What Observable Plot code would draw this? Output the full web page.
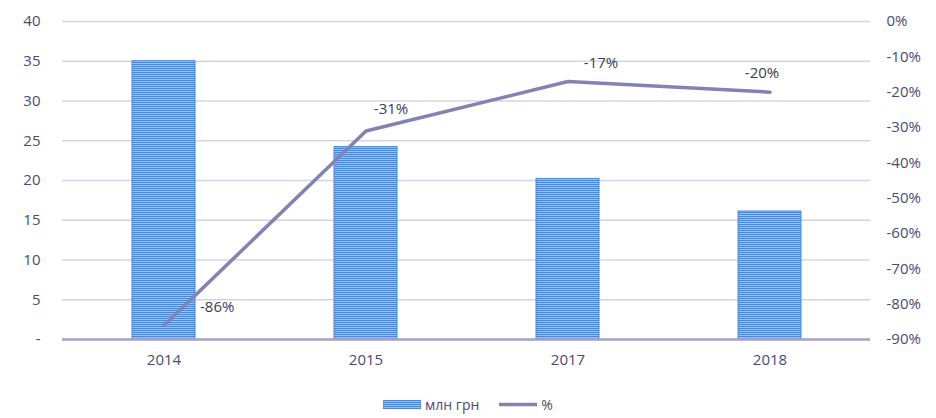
<!DOCTYPE html>
<html>
<head>
<meta charset="utf-8">
<script src="https://cdn.jsdelivr.net/npm/d3@7"></script>
<script src="https://cdn.jsdelivr.net/npm/@observablehq/plot@0.6"></script>
<style>
  html, body { margin: 0; padding: 0; background: #fff; }
  body { width: 936px; height: 418px; overflow: hidden; font-family: "Open Sans", sans-serif; }
  #legend { height: 28px; display: flex; justify-content: center; align-items: center; gap: 4px; font-size: 14px; font-weight: 500; color: #4a4a74; }
  #legend .item { display: flex; align-items: center; gap: 4px; margin: 0 8px; }
</style>
</head>
<body>
<div id="chart"></div>
<div id="legend">
  <div class="item"><svg width="38" height="9"><defs><pattern id="stripesLegend" width="4" height="2" patternUnits="userSpaceOnUse"><rect width="4" height="2" fill="#9cc2f1"/><rect width="4" height="1" fill="#4a86d8"/></pattern></defs><rect width="38" height="9" fill="url(#stripesLegend)" stroke="#4a86d8" stroke-width="0.8"/></svg><span>млн грн</span></div>
  <div class="item"><svg width="38" height="9"><line x1="0" x2="38" y1="4.5" y2="4.5" stroke="#8282b4" stroke-width="3.5"/></svg><span>%</span></div>
</div>
<script>
const years = ["2014", "2015", "2017", "2018"];
const amounts = [35.0, 24.2, 20.2, 16.1];        // млн грн
const percents = [-86, -31, -17, -20];          // %
const leftTicks = [0, 5, 10, 15, 20, 25, 30, 35, 40];
const rightTicks = [0, -10, -20, -30, -40, -50, -60, -70, -80, -90];

const yMax = 40, pMin = -90;
const toY = p => (p - pMin) * yMax / (0 - pMin);
const fromY = y => y * (0 - pMin) / yMax + pMin;

const bars = years.map((y, i) => ({year: y, value: amounts[i]}));
const line = years.map((y, i) => ({year: y, pct: percents[i], yv: toY(percents[i])}));

const font = "Open Sans, sans-serif";
const axisColor = "#4a4a74";
const labelColor = "#3d3d50";

const plot = Plot.plot({
  width: 936,
  height: 390,
  marginTop: 21,
  marginBottom: 51,
  marginLeft: 62,
  marginRight: 66,
  style: {fontFamily: font, fontSize: "15px", fontWeight: 500, color: axisColor, background: "#fff", overflow: "visible"},
  x: {domain: years, paddingInner: 0.69, paddingOuter: 0.345, label: null},
  y: {domain: [0, yMax], label: null},
  marks: [
    Plot.gridY(leftTicks, {stroke: "#d4d4e8", strokeOpacity: 1, strokeWidth: 1.3}),
    Plot.barY(bars, {x: "year", y: "value", fill: "url(#stripes)", stroke: "#4a86d8", strokeWidth: 1}),
    Plot.ruleY([0], {stroke: "#a4a4ca", strokeWidth: 2.5}),
    Plot.line(line, {x: "year", y: "yv", stroke: "#8282b4", strokeWidth: 3.5, strokeLinejoin: "round"}),
    Plot.text(line.filter((d, i) => i === 0), {x: "year", y: "yv", text: d => d.pct + "%", textAnchor: "start", dx: 36, dy: -18, fill: labelColor, fontSize: 15}),
    Plot.text(line.filter((d, i) => i === 1), {x: "year", y: "yv", text: d => d.pct + "%", dx: 25, dy: -22, fill: labelColor, fontSize: 15}),
    Plot.text(line.filter((d, i) => i === 2), {x: "year", y: "yv", text: d => d.pct + "%", dx: 33, dy: -18, fill: labelColor, fontSize: 15}),
    Plot.text(line.filter((d, i) => i === 3), {x: "year", y: "yv", text: d => d.pct + "%", dx: -8, dy: -19, fill: labelColor, fontSize: 15}),
    Plot.axisY(leftTicks, {anchor: "left", tickSize: 0, tickPadding: 22, tickFormat: d => d === 0 ? "-" : String(d), fill: axisColor, fontSize: 15}),
    Plot.axisY(rightTicks.map(toY), {anchor: "right", tickSize: 0, tickPadding: 16, tickFormat: d => Math.round(fromY(d)) + "%", fill: axisColor, fontSize: 15}),
    Plot.axisX({tickSize: 0, tickPadding: 15, fill: axisColor, fontSize: 15})
  ]
});

const defs = d3.select(plot).insert("defs", ":first-child");
const pat = defs.append("pattern").attr("id", "stripes").attr("width", 8).attr("height", 2).attr("patternUnits", "userSpaceOnUse");
pat.append("rect").attr("width", 8).attr("height", 2).attr("fill", "#9cc2f1");
pat.append("rect").attr("width", 8).attr("height", 1).attr("fill", "#4a86d8");

document.getElementById("chart").appendChild(plot);
</script>
</body>
</html>
